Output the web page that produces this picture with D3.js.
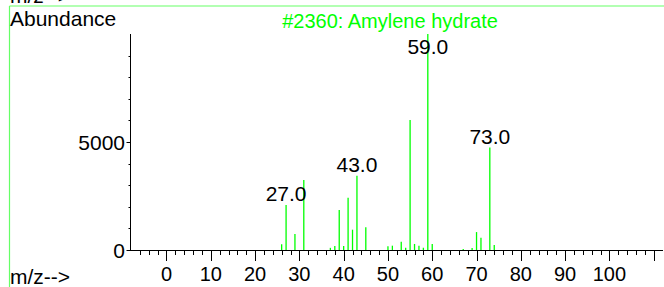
<!DOCTYPE html>
<html><head><meta charset="utf-8">
<script src="https://cdn.jsdelivr.net/npm/d3@7"></script>
<style>body{margin:0;background:#fff}svg{display:block}text{font-family:"Liberation Sans",Arial,sans-serif}</style>
</head><body>
<svg id="c" width="664" height="287"></svg>
<script>
const title = "#2360: Amylene hydrate";
const mz =        [26, 27, 29, 31, 37, 38, 39, 40, 41, 42, 43, 45, 50, 51, 53, 54, 55, 56, 57, 58, 59, 60, 67, 69, 70, 71, 73, 74];
const abundance = [265,2080,740,3240,100,185,1850,185,2420,940,3440,1050,170,200,385,105,6020,280,200,105,10000,280,45,90,830,570,4740,230];
const labeledPeaks = [27, 43, 59, 73];
const xTickLabels = [0,10,20,30,40,50,60,70,80,90,100];
const yTickLabels = [0,5000];

const svg = d3.select("#c");
const x = d3.scaleLinear().domain([-8.24, 112.1]).range([130, 663]);
const y = d3.scaleLinear().domain([0, 10000]).range([250, 34]);
const green = "#00ff00";

// frame
svg.append("line").attr("x1",9.5).attr("x2",9.5).attr("y1",6).attr("y2",287).attr("stroke","#66ff66").attr("stroke-width",1.2);
svg.append("line").attr("x1",9.5).attr("x2",664).attr("y1",6).attr("y2",6).attr("stroke","#66ff66").attr("stroke-width",1.2);

const fs = 20;
svg.append("text").attr("x",10).attr("y",3).attr("font-size",21).text("m/z-->");
svg.append("text").attr("x",10).attr("y",26).attr("font-size",21).text("Abundance");
svg.append("text").attr("x",10).attr("y",284).attr("font-size",21).text("m/z-->");
svg.append("text").attr("x",390).attr("y",28).attr("font-size",fs).attr("text-anchor","middle").attr("fill",green).text(title);

// axes
svg.append("line").attr("x1",130.5).attr("x2",130.5).attr("y1",y(10000)).attr("y2",250.5).attr("stroke","#000");
svg.append("line").attr("x1",130).attr("x2",663).attr("y1",250.5).attr("y2",250.5).attr("stroke","#000");

// y ticks
d3.range(0, 10000, 1000).forEach(v => {
  const major = yTickLabels.includes(v);
  svg.append("line").attr("x1",130.5 - (major?4:2)).attr("x2",130.5).attr("y1",Math.round(y(v))+0.5).attr("y2",Math.round(y(v))+0.5).attr("stroke","#000");
});
yTickLabels.forEach(v => {
  svg.append("text").attr("x",125).attr("y",y(v)).attr("dy","0.36em").attr("font-size",21).attr("text-anchor","end").text(v);
});

// x ticks
d3.range(-6, 111, 2).forEach(v => {
  const major = v % 10 === 0;
  const px = Math.round(x(v)) + 0.5;
  svg.append("line").attr("x1",px).attr("x2",px).attr("y1",250).attr("y2",250 + (major?11:5)).attr("stroke","#000");
});
xTickLabels.forEach(v => {
  svg.append("text").attr("x",x(v)).attr("y",281).attr("font-size",fs).attr("text-anchor","middle").text(v);
});

// bars
svg.selectAll("line.bar").data(mz.map((m,i)=>({m, a:abundance[i]}))).enter().append("line")
  .attr("class","bar")
  .attr("x1",d=>x(d.m)).attr("x2",d=>x(d.m))
  .attr("y1",250).attr("y2",d=>y(d.a))
  .attr("stroke",green).attr("stroke-width",1.3);

// peak labels
labeledPeaks.forEach(m => {
  const a = abundance[mz.indexOf(m)];
  svg.append("text").attr("x",x(m)).attr("y",Math.max(y(a)-4, 54)).attr("font-size",21).attr("text-anchor","middle").text(m.toFixed(1));
});
</script>
</body></html>
